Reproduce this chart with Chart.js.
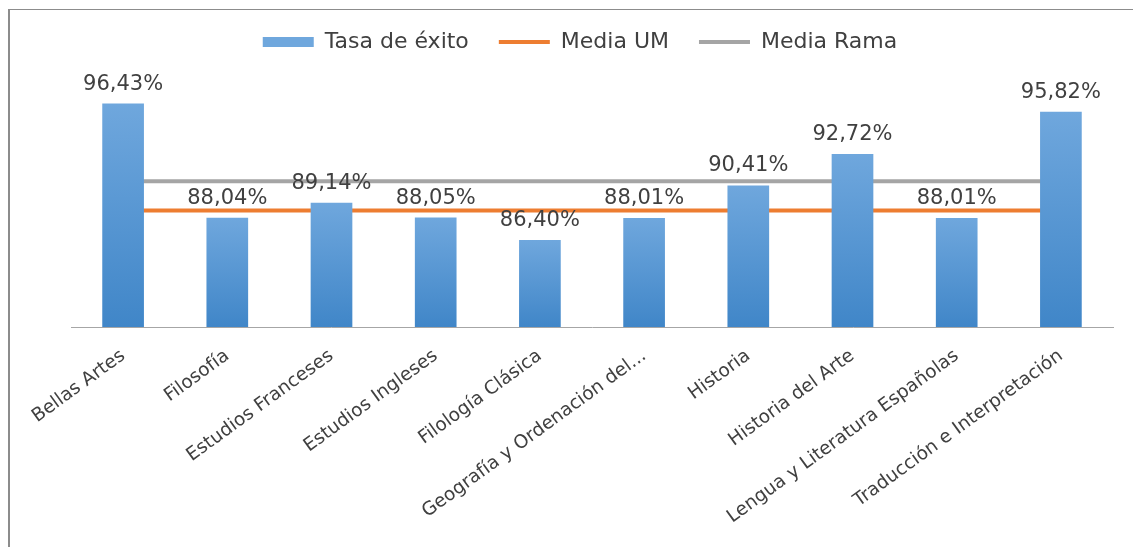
<!DOCTYPE html>
<html>
<head>
<meta charset="utf-8">
<script src="https://cdn.jsdelivr.net/npm/chart.js@4.4.1/dist/chart.umd.min.js"></script>
<style>
  html, body { margin: 0; padding: 0; background: #fff; overflow: hidden; }
  #frame {
    position: absolute; left: 8px; top: 9px; width: 1200px; height: 600px;
    border-left: 2px solid #8c8c8c; border-top: 1px solid #8c8c8c;
  }
  #chart { position: absolute; left: 0; top: 0; }
</style>
</head>
<body>
<div id="frame"></div>
<canvas id="chart" width="1133" height="547"></canvas>
<script>
// Tasa de éxito por titulación (%)
const titulaciones = [
  "Bellas Artes",
  "Filosofía",
  "Estudios Franceses",
  "Estudios Ingleses",
  "Filología Clásica",
  "Geografía y Ordenación del...",
  "Historia",
  "Historia del Arte",
  "Lengua y Literatura Españolas",
  "Traducción e Interpretación",
];
const tasaExito = [96.43, 88.04, 89.14, 88.05, 86.40, 88.01, 90.41, 92.72, 88.01, 95.82];
const mediaUM = [88.56, 88.56, 88.56, 88.56, 88.56, 88.56, 88.56, 88.56, 88.56, 88.56];
const mediaRama = [90.72, 90.72, 90.72, 90.72, 90.72, 90.72, 90.72, 90.72, 90.72, 90.72];

const COLORS = {
  text: "#404040",
  barTop: "#6FA7DD",
  barBottom: "#4086C8",
  orange: "#ED7D31",
  gray: "#A5A5A5",
  axis: "#A6A6A6",
};

Chart.defaults.font.family = '"DejaVu Sans", sans-serif';
Chart.defaults.font.size = 21;
Chart.defaults.color = COLORS.text;

function barGradient(c) {
  const chart = c.chart;
  const area = chart.chartArea;
  if (!area || c.raw === undefined) return "#5B9BD5";
  const top = chart.scales.y.getPixelForValue(c.raw);
  const g = chart.ctx.createLinearGradient(0, area.bottom, 0, top);
  g.addColorStop(0, COLORS.barBottom);
  g.addColorStop(1, COLORS.barTop);
  return g;
}

function fmt(v) {
  return v.toFixed(2).replace(".", ",") + "%";
}

// value labels above the bars
const valueLabels = {
  id: "valueLabels",
  afterDatasetsDraw(chart) {
    const meta = chart.getDatasetMeta(0);
    const ctx = chart.ctx;
    ctx.save();
    ctx.font = '21px "DejaVu Sans"';
    ctx.fillStyle = COLORS.text;
    ctx.textAlign = "center";
    ctx.textBaseline = "alphabetic";
    meta.data.forEach((bar, i) => {
      ctx.fillText(fmt(tasaExito[i]), bar.x, bar.y - 14);
    });
    ctx.restore();
  },
};

new Chart(document.getElementById("chart"), {
  data: {
    labels: titulaciones,
    datasets: [
      {
        type: "bar",
        label: "Tasa de éxito",
        data: tasaExito,
        backgroundColor: barGradient,
        borderWidth: 0,
        barPercentage: 0.4,
        categoryPercentage: 1,
        pointStyle: "rect",
      },
      {
        type: "line",
        label: "Media UM",
        data: mediaUM,
        borderColor: COLORS.orange,
        backgroundColor: COLORS.orange,
        borderWidth: 4,
        borderCapStyle: "round",
        pointRadius: 0,
        pointStyle: "line",
      },
      {
        type: "line",
        label: "Media Rama",
        data: mediaRama,
        borderColor: COLORS.gray,
        backgroundColor: COLORS.gray,
        borderWidth: 4,
        borderCapStyle: "round",
        pointRadius: 0,
        pointStyle: "line",
      },
    ],
  },
  options: {
    responsive: false,
    animation: false,
    layout: { padding: { top: 1, left: 47, right: 20, bottom: 0 } },
    plugins: {
      legend: {
        position: "top",
        maxHeight: 54,
        labels: {
          usePointStyle: true,
          pointStyleWidth: 51,
          boxHeight: 10,
          padding: 30,
          color: COLORS.text,
          font: { size: 22 },
          sort: (a, b) => a.datasetIndex - b.datasetIndex,
        },
      },
      tooltip: { enabled: false },
    },
    scales: {
      x: {
        grid: { display: false },
        border: { display: true, color: COLORS.axis, width: 1 },
        ticks: {
          autoSkip: false,
          minRotation: 36,
          maxRotation: 36,
          padding: 10,
          font: { size: 18.5 },
        },
        afterFit: (scale) => { scale.height = 220; },
      },
      // hidden value axis, kept as an empty strip on the left
      y: {
        min: 80,
        max: 100,
        grid: { display: false },
        border: { display: false },
        ticks: { display: false },
        afterFit: (scale) => { scale.width = 24; },
      },
    },
  },
  plugins: [valueLabels],
});
</script>
</body>
</html>
